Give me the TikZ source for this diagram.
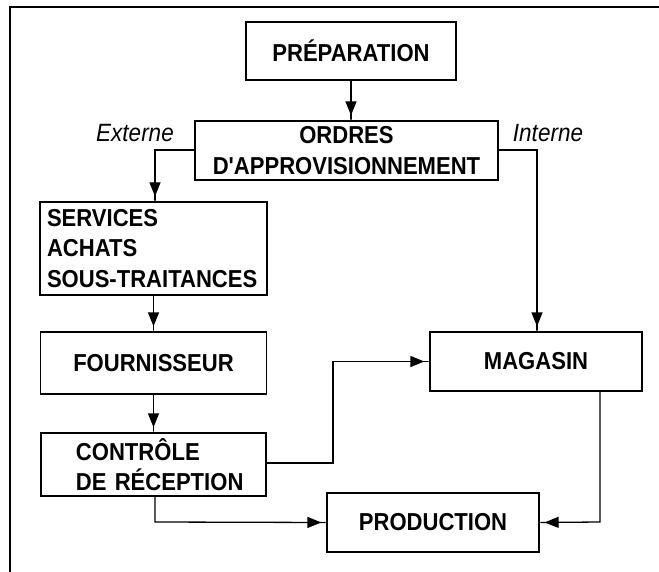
\documentclass[tikz,border=0pt]{standalone}
\usepackage{fontspec}
\setmainfont{Liberation Sans}
\newfontfamily\boxfont[FakeStretch=0.9]{Liberation Sans Bold}
\newfontfamily\labfont[FakeStretch=0.9]{Liberation Sans Italic}
\usetikzlibrary{arrows.meta}
\tikzset{
  box/.style={draw, line width=1.3pt, rectangle, inner sep=0pt, align=center,
    font=\fontsize{24.5}{30.5}\selectfont\boxfont},
  lbox/.style={box, align=left},
  lab/.style={inner sep=0pt, font=\fontsize{25}{28}\selectfont\labfont},
  conn/.style={line width=1.3pt, -{Triangle[length=14pt,width=11pt] Rectangle[length=5pt,width=1.3pt]}},
  frame/.style={line width=2.2pt}
}
\begin{document}
\begin{tikzpicture}[x=1pt,y=-1pt]
\useasboundingbox (0,0) rectangle (659,572);
\draw[frame] (10,572) -- (10,7) -- (659,7);
\node[box, minimum width=210pt, minimum height=58pt] (prep) at (351,51) {PRÉPARATION};
\node[box, minimum width=303pt, minimum height=59pt] (ord) at (346.5,150.5) {ORDRES\\D{\char"0027}APPROVISIONNEMENT};
\node[lbox, text width=213pt, inner xsep=7pt, minimum height=93pt] (serv) at (153.5,248.5) {SERVICES\\ACHATS\\\mbox{SOUS-TRAITANCES}};
\node[box, minimum width=226pt, minimum height=62pt] (four) at (153.5,363) {FOURNISSEUR};
\node[lbox, text width=211pt, inner xsep=7pt, minimum height=63pt] (ctrl) at (153.5,464.5) {\hspace*{28pt}CONTRÔLE\\\hspace*{28pt}\mbox{DE RÉCEPTION}};
\node[box, minimum width=212pt, minimum height=59pt] (mag) at (536,361.5) {MAGASIN};
\node[box, minimum width=212pt, minimum height=59pt] (prod) at (433,522.5) {PRODUCTION};
\node[lab] (ext) at (135,133) {Externe};
\node[lab] (int) at (548,133) {Interne};
\coordinate (c1) at (155,150);
\coordinate (c2) at (537,150);
\coordinate (c3) at (333,463);
\coordinate (c4) at (155,522);
\coordinate (c5) at (600,522);
\draw[conn] (prep.south) -- (prep.south |- ord.north);
\draw[conn] (ord.west |- c1) -- (c1) -- (c1 |- serv.north);
\draw[conn] (ord.east |- c2) -- (c2) -- (c2 |- mag.north);
\draw[conn] (serv.south) -- (four.north);
\draw[conn] (four.south) -- (ctrl.north);
\draw[conn] (ctrl.east |- c3) -- (c3) -- (c3 |- mag.west) -- (mag.west);
\draw[conn] (c4 |- ctrl.south) -- (c4) -- (prod.west);
\draw[conn] (c5 |- mag.south) -- (c5) -- (prod.east);
\end{tikzpicture}
\end{document}
